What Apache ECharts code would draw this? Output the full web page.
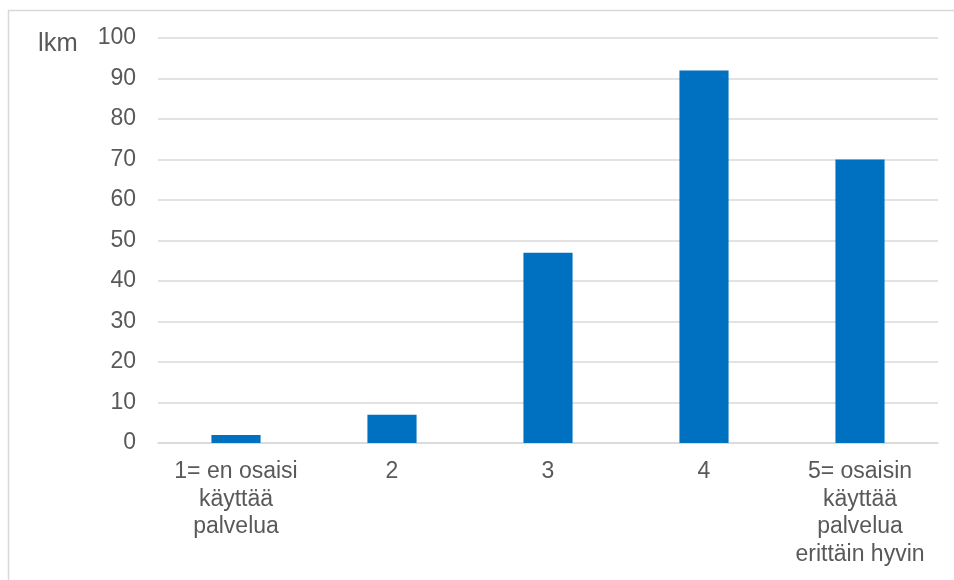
<!DOCTYPE html>
<html>
<head>
<meta charset="utf-8">
<script src="https://cdn.jsdelivr.net/npm/echarts@6/dist/echarts.min.js"></script>
<style>html,body{margin:0;padding:0;background:#fff;}#c{width:954px;height:580px;}</style>
</head>
<body>
<div id="c"></div>
<script>
var categories = ["1= en osaisi\nkäyttää\npalvelua", "2", "3", "4", "5= osaisin\nkäyttää\npalvelua\nerittäin hyvin"];
var values = [2, 7, 47, 92, 70];
var yTicks = {min: 0, max: 100, interval: 10};
var yName = "lkm";

var chart = echarts.init(document.getElementById('c'));
chart.setOption({
  animation: false,
  backgroundColor: '#fff',
  textStyle: {fontFamily: 'Liberation Sans, Arial, sans-serif'},
  graphic: [
    {type: 'rect', left: 6, top: 8, shape: {width: 1000, height: 700}, style: {fill: 'none', stroke: '#d9d9d9', lineWidth: 1.5}, silent: true},
    {type: 'text', left: 38, top: 31, style: {text: yName, fontSize: 25.5, fill: '#595959', fontFamily: 'Liberation Sans, Arial, sans-serif'}}
  ],
  grid: {left: 158, right: 16, top: 38, bottom: 137},
  xAxis: {
    type: 'category',
    data: categories,
    axisLine: {lineStyle: {color: '#d9d9d9', width: 1.5}},
    axisTick: {show: false},
    axisLabel: {color: '#595959', fontSize: 23, lineHeight: 27.5, margin: 15, interval: 0}
  },
  yAxis: {
    type: 'value',
    min: yTicks.min, max: yTicks.max, interval: yTicks.interval,
    axisLine: {show: false},
    axisTick: {show: false},
    axisLabel: {color: '#595959', fontSize: 23, margin: 22},
    splitLine: {lineStyle: {color: '#d9d9d9', width: 1.5}}
  },
  series: [{
    type: 'bar',
    data: values,
    barWidth: '31.5%',
    itemStyle: {color: '#0070c0'}
  }]
});
</script>
</body>
</html>
